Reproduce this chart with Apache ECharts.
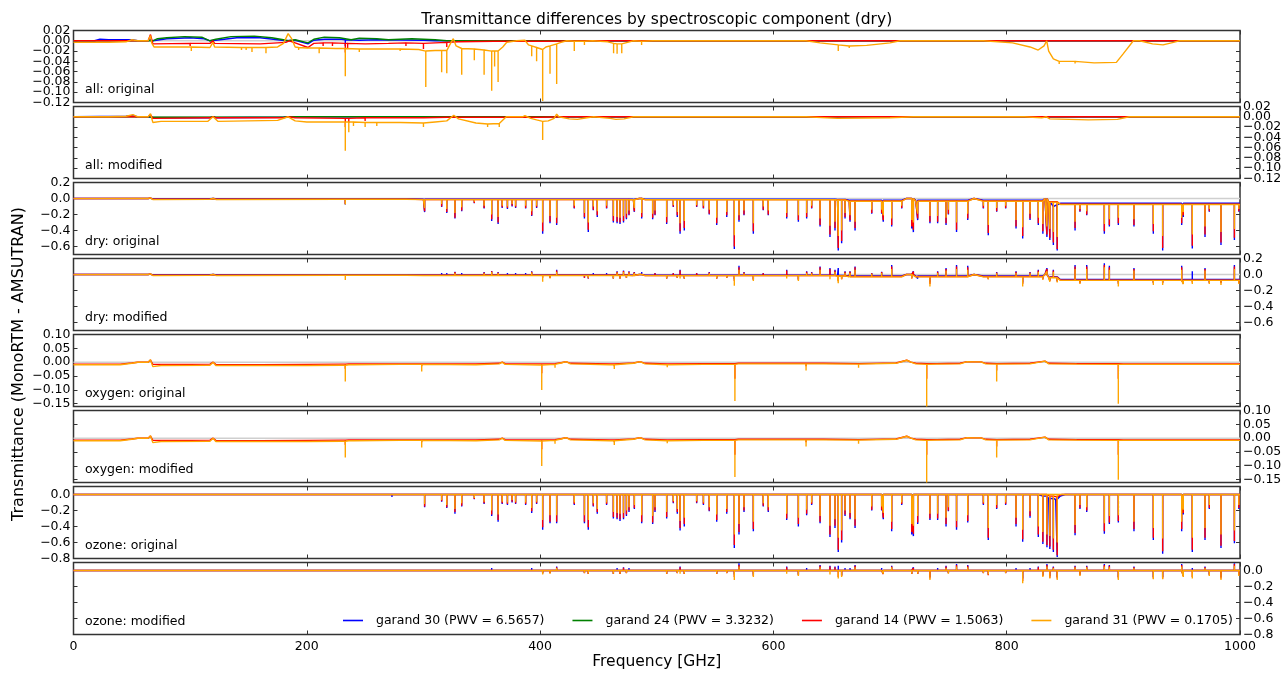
<!DOCTYPE html>
<html>
<head>
<meta charset="utf-8">
<script src="https://cdn.jsdelivr.net/npm/echarts@6/dist/echarts.min.js"></script>
<style>
  html, body { margin: 0; padding: 0; background: #ffffff; }
  #chart { width: 1285px; height: 673px; }
</style>
</head>
<body>
<div id="chart"></div>
<script>
// ---------------------------------------------------------------------------
// Transmittance differences (MonoRTM - AMSUTRAN) per spectroscopic component
// ---------------------------------------------------------------------------

const seriesNames = [
  'garand 30 (PWV = 6.5657)',
  'garand 24 (PWV = 3.3232)',
  'garand 14 (PWV = 1.5063)',
  'garand 31 (PWV = 0.1705)'
];
const seriesColors = ['#0000ff', '#008000', '#ff0000', '#ffa500'];

const panelLabels = [
  'all: original', 'all: modified',
  'dry: original', 'dry: modified',
  'oxygen: original', 'oxygen: modified',
  'ozone: original', 'ozone: modified'
];

const freqTicks = [0, 200, 400, 600, 800, 1000];
const allYTicks = [-0.12, -0.10, -0.08, -0.06, -0.04, -0.02, 0.00, 0.02];
const dryYTicks = [-0.6, -0.4, -0.2, 0.0, 0.2];
const oxygenYTicks = [-0.15, -0.10, -0.05, 0.00, 0.05, 0.10];
const ozoneYTicks = [-0.8, -0.6, -0.4, -0.2, 0.0];

// Trace entries: [GHz, value] is a continuum point,
// [GHz, continuum, peak] is a narrow line drawn from the continuum to its peak.

// ---- all: original ----
const allOrigBlue = [[0,0],[18,0],[22.7,0.003],[30,0.002],[50,0.002],[55,0],[64,0],[66,0.003],[68,0],[80,0.004],[100,0.006],[112,0.004],[117,0],[122,0.001],[140,0.006],[160,0.006],[175,0.002],[182,0],[190,0.001],[201,-0.006],[206,0.001],[215,0.003],[230,0.003],[233,0.002,-0.01],[245,0.001],[260,0.002],[300,0.001],[310,0],[1000,0]];
const allOrigGreen = [[0,0],[64,0],[68,0],[72,0.004],[80,0.006],[95,0.008],[110,0.007],[117,0],[122,0.003],[135,0.008],[155,0.009],[170,0.006],[180,0.002],[184,0],[190,0.002],[201,-0.004],[206,0.003],[215,0.007],[228,0.006],[233,0.004],[238,0.002],[245,0.005],[260,0.004],[270,0.002],[290,0.004],[310,0.002],[320,0],[1000,0]];
const allOrigRed = [[0,0],[64,0],[66,0.012],[68,-0.006],[100,-0.005,-0.01],[117,-0.005],[119.5,0],[121,-0.005],[160,-0.006],[182,-0.003],[185,0],[190,-0.004],[201,-0.013],[206,-0.005],[214,-0.004,-0.01],[222,-0.004,-0.01],[233,-0.005,-0.023],[235,-0.005,-0.015],[250,-0.006],[270,-0.005],[285,-0.004,-0.01],[300,-0.005,-0.016],[310,-0.004],[320,-0.003,-0.012],[330,-0.002],[360,-0.001],[400,-0.001],[450,0],[1000,0]];
const allOrigOrange = [[0,-0.003],[30,-0.003],[45,-0.002],[50,0.002],[55,0],[64,0],[66,0.01],[67,-0.004],[69,-0.012],[90,-0.012],[101,-0.012,-0.02],[117,-0.013],[119.5,-0.003],[121,-0.012],[144,-0.013,-0.018],[148,-0.013,-0.018],[153,-0.013,-0.022],[165,-0.013,-0.024],[175,-0.012],[180,-0.005],[184,0.014],[187,0.004],[190,-0.012],[193,-0.013,-0.018],[200,-0.014],[210.6,-0.014,-0.024],[225,-0.015],[233,-0.015,-0.069],[245,-0.016,-0.022],[260,-0.016],[280,-0.016,-0.02],[296,-0.017],[302,-0.02,-0.09],[310,-0.019],[315.6,-0.019,-0.061],[320,-0.019,-0.063],[323,-0.006],[325.6,0.004],[328,-0.01],[332.8,-0.015,-0.066],[343.6,-0.016,-0.038],[352,-0.018,-0.066],[358.5,-0.02,-0.097],[361,-0.02,-0.05],[364,-0.02,-0.08],[368,-0.012],[371.4,-0.003],[380,0],[387,0.001],[390,-0.008],[392.8,-0.01,-0.03],[397,-0.013,-0.04],[402.2,-0.017,-0.117],[405,-0.012],[408.5,-0.01,-0.064],[414.2,-0.006,-0.084],[418,-0.003],[422.8,0],[429.3,-0.001,-0.02],[438,-0.001,-0.008],[445,0],[458,-0.002],[463,-0.005,-0.024],[466,-0.006,-0.025],[470,-0.006,-0.024],[475,-0.003],[480,0],[487,-0.001,-0.008],[497,0],[628,0],[640,-0.004],[655.6,-0.008,-0.02],[665,-0.01,-0.014],[680,-0.009],[700,-0.004],[708.5,0],[780,0],[805,-0.004],[820,-0.012],[827,-0.018],[832,-0.01],[834.3,0],[836,-0.02],[840,-0.035],[845,-0.04,-0.045],[858.6,-0.04,-0.044],[875,-0.043],[894,-0.042,-0.045],[900,-0.025],[908.6,0],[914,0],[925,-0.006],[934,-0.008],[943,-0.003],[948,0],[1000,0]];

// ---- all: modified ----
const allModBlue = [[0,0],[45,0.001],[50,0.002],[55,0],[64,0],[68,-0.002],[117,-0.002],[120,0],[122,-0.002],[180,-0.001],[184,0],[260,0],[1000,0]];
const allModGreen = [[0,0],[64,0],[68,-0.001],[117,-0.001],[120,0],[122,-0.001],[180,-0.001],[184,0],[1000,0]];
const allModRed = [[0,0],[64,0],[66,0.004],[68,-0.003],[117,-0.002],[120,0],[122,-0.002],[180,-0.002],[184,0],[190,-0.002],[233,-0.003,-0.02],[236,-0.003,-0.012],[250,-0.002,-0.008],[300,-0.002],[320,-0.001],[400,-0.001],[420,0],[1000,0]];
const allModOrange = [[0,0],[30,0],[45,0.001],[51,0.004],[55,0],[64,0],[66,0.006],[68,-0.011],[75,-0.009],[115,-0.009],[119.6,0],[124,-0.009],[175,-0.007],[184,0],[190,-0.008],[200,-0.01],[233,-0.01,-0.066],[236,-0.01,-0.03],[240,-0.01,-0.018],[250,-0.011,-0.02],[260,-0.011,-0.018],[280,-0.011],[300,-0.012,-0.02],[310,-0.01],[320,-0.008],[326,0.003],[330,-0.004],[345,-0.012],[355,-0.014,-0.02],[365,-0.013,-0.02],[371,0],[385,0],[387,0.002],[392,-0.003],[397,-0.006],[402.2,-0.009,-0.045],[407,-0.008],[412,-0.003],[414.2,0.005],[416,0],[425,-0.004],[432,-0.005],[440,-0.002],[446,0],[460,-0.003],[465,-0.005],[472,-0.004],[480,0],[628,0],[655,-0.003],[700,-0.002],[720,0],[815,0],[830,-0.002],[834,0],[837,-0.004],[870,-0.006],[895,-0.005],[905,0],[1000,0]];

// ---- oxygen (original and modified line shapes give the same curves) ----
const oxygenRed = [[0,-0.007],[40,-0.007],[50,-0.003],[55,0],[64,0],[66,0.008],[68,-0.008],[100,-0.008],[117,-0.007],[119.7,0],[122,-0.008],[160,-0.009],[200,-0.008],[230,-0.007],[233,-0.007,-0.024],[236,-0.006],[240,-0.006,-0.01],[280,-0.006],[298.5,-0.006,-0.015],[345,-0.006,-0.01],[365,-0.004],[367.6,0],[370,-0.005],[401.4,-0.006,-0.04],[412.8,-0.005,-0.012],[418,-0.002],[422.2,0.002],[426,-0.004],[460,-0.006],[463.6,-0.006,-0.015],[480,-0.003],[485.7,0.002],[490,-0.004],[509,-0.006,-0.012],[540,-0.005],[567,-0.005,-0.06],[570,-0.004],[582.8,-0.004,-0.01],[600,-0.004],[628,-0.004,-0.015],[642.8,-0.004,-0.006],[673,-0.005,-0.012],[705,-0.003],[714.3,0.007],[718,0],[722,-0.004],[731.4,-0.005,-0.06],[740,-0.005],[760,-0.004],[766,0.002],[772,0.001],[778,0.001],[782,-0.004],[791.4,-0.005,-0.03],[820,-0.004],[832.8,0.004],[836,-0.004],[860,-0.005],[895.7,-0.005,-0.06],[900,-0.006],[1000,-0.006]];
const oxygenOrange = [[0,-0.009],[40,-0.009],[50,-0.004],[55,0],[64,0],[66,0.009],[68,-0.016],[75,-0.012],[117,-0.011],[119.7,0],[122,-0.012],[200,-0.012],[230,-0.011],[233,-0.011,-0.07],[236,-0.009],[240,-0.009,-0.012],[280,-0.008],[298.5,-0.008,-0.034],[345,-0.009,-0.015],[365,-0.006],[367.6,0],[370,-0.008],[401.4,-0.01,-0.1],[412.8,-0.008,-0.02],[418,-0.003],[422.2,0.002],[426,-0.006],[460,-0.009],[463.6,-0.009,-0.025],[480,-0.004],[485.7,0.002],[490,-0.006],[509,-0.009,-0.018],[540,-0.008],[567,-0.008,-0.14],[570,-0.006],[582.8,-0.006,-0.012],[600,-0.006],[628,-0.006,-0.03],[642.8,-0.006,-0.008],[673,-0.007,-0.02],[705,-0.004],[714.3,0.007],[718,0],[722,-0.006],[731.4,-0.008,-0.16],[740,-0.007],[760,-0.006],[766,0.002],[772,0.001],[778,0.001],[782,-0.006],[791.4,-0.007,-0.07],[820,-0.006],[832.8,0.004],[836,-0.006],[860,-0.007],[895.7,-0.008,-0.15],[900,-0.008],[1000,-0.008]];

// ---- dry / ozone line catalogue (GHz) ----
const lineGHz = [
  233.0, 240.6, 250.0, 273.0, 285.6, 301.0, 315.6, 320.0, 327.0, 332.8,
  343.6, 352.0, 358.5, 364.0, 367.5, 372.0, 376.0, 379.0, 387.6, 392.8,
  397.0, 402.2, 408.5, 414.2, 429.3, 438.0, 441.3, 445.6, 449.0, 457.0,
  462.8, 466.0, 468.5, 471.5, 474.0, 476.2, 480.8, 487.1, 496.5, 498.5,
  508.5, 514.2, 517.6, 520.0, 523.6, 534.2, 540.0, 545.0, 551.4, 560.0,
  566.5, 570.5, 574.8, 582.8, 591.3, 595.6, 611.4, 621.4, 628.5, 632.8,
  640.0, 648.5, 652.8, 655.6, 658.5, 661.4, 665.7, 670.0, 684.3, 692.8,
  694.2, 701.4, 710.0, 718.6, 720.0, 723.7, 734.2, 740.8, 748.0, 750.0,
  757.0, 766.6, 780.0, 784.2, 791.4, 799.1, 808.0, 813.7, 820.0, 827.1,
  831.0, 834.5, 837.0, 840.0, 843.3, 858.6, 862.8, 868.6, 883.7, 888.0,
  895.7, 909.1, 925.7, 933.7, 950.0, 951.4, 959.1, 970.0, 973.7, 983.7,
  995.2, 999.0
];

// dry continuum, original line shapes
const dryContBlue = [[0,0],[64,0],[66,0.005],[68,-0.004],[117,-0.004],[119.7,0],[122,-0.004],[230,-0.004],[300,-0.008],[480,-0.01],[485,0],[490,-0.01],[655,-0.012],[665,-0.02],[705,-0.02],[714,0],[722,-0.02],[764,-0.02],[772,0],[780,-0.02],[828,-0.02],[832.8,0],[836,-0.04],[840,-0.1],[843,-0.08],[846,-0.06],[1000,-0.062]];
const dryContRed = [[0,0],[64,0],[66,0.006],[68,-0.008],[117,-0.008],[119.7,0],[122,-0.008],[230,-0.008],[300,-0.012],[480,-0.014],[485,0],[490,-0.014],[655,-0.016],[665,-0.03],[705,-0.03],[714,0],[722,-0.03],[764,-0.03],[772,0],[780,-0.03],[828,-0.03],[832.8,0],[836,-0.04],[846,-0.072],[1000,-0.075]];
const dryContOrange = [[0,-0.002],[55,0],[64,0],[66,0.008],[68,-0.012],[117,-0.01],[119.7,0],[122,-0.012],[230,-0.01],[300,-0.014],[480,-0.015],[485,0],[490,-0.015],[655,-0.018],[665,-0.035],[705,-0.035],[714,0],[722,-0.035],[764,-0.035],[772,0],[780,-0.035],[828,-0.035],[832.8,0],[836,-0.045],[846,-0.075],[1000,-0.078]];
// dry continuum, modified line shapes
const dryModContBlue = [[0,0],[64,0],[66,0.005],[68,-0.004],[117,-0.004],[119.7,0],[122,-0.004],[230,-0.004],[300,-0.006],[480,-0.008],[485,0],[490,-0.008],[655,-0.012],[665,-0.018],[705,-0.018],[714,0],[722,-0.018],[764,-0.018],[772,0],[780,-0.018],[828,-0.018],[832.8,0],[836,-0.03],[846,-0.062],[1000,-0.064]];
const dryModContRed = [[0,0],[64,0],[66,0.006],[68,-0.008],[117,-0.008],[119.7,0],[122,-0.008],[230,-0.008],[300,-0.01],[480,-0.012],[485,0],[490,-0.012],[655,-0.016],[665,-0.025],[705,-0.025],[714,0],[722,-0.025],[764,-0.025],[772,0],[780,-0.025],[828,-0.025],[832.8,0],[836,-0.035],[846,-0.07],[1000,-0.072]];
const dryModContOrange = [[0,-0.002],[55,0],[64,0],[66,0.008],[68,-0.012],[117,-0.01],[119.7,0],[122,-0.012],[230,-0.01],[300,-0.012],[480,-0.014],[485,0],[490,-0.014],[655,-0.018],[665,-0.03],[705,-0.03],[714,0],[722,-0.03],[764,-0.03],[772,0],[780,-0.03],[828,-0.03],[832.8,0],[836,-0.04],[846,-0.074],[1000,-0.076]];

const dryOrigBluePeak = [
  -0.075,-0.02,-0.02,-0.025,-0.02,-0.17,-0.105,-0.18,-0.25,-0.16,
  -0.06,-0.125,-0.28,-0.32,-0.12,-0.13,-0.1,-0.12,-0.125,-0.22,
  -0.12,-0.44,-0.31,-0.33,-0.125,-0.25,-0.42,-0.146,-0.23,-0.125,
  -0.3,-0.31,-0.32,-0.3,-0.26,-0.21,-0.167,-0.25,-0.26,-0.21,
  -0.32,-0.105,-0.23,-0.44,-0.4,-0.105,-0.125,-0.2,-0.33,-0.23,
  -0.63,-0.29,-0.21,-0.44,-0.146,-0.21,-0.25,-0.29,-0.25,-0.125,
  -0.35,-0.48,-0.4,-0.65,-0.56,-0.25,-0.29,-0.4,-0.19,-0.19,
  -0.29,-0.35,-0.125,-0.375,-0.42,-0.27,-0.31,-0.31,-0.33,-0.2,
  -0.42,-0.27,-0.125,-0.46,-0.167,-0.125,-0.375,-0.5,-0.27,-0.33,
  -0.44,-0.48,-0.52,-0.58,-0.65,-0.4,-0.167,-0.21,-0.44,-0.35,
  -0.33,-0.35,-0.44,-0.65,-0.33,-0.23,-0.625,-0.48,-0.167,-0.58,
  -0.52,-0.167
];
const dryOrigRedPeak = [
  -0.07,-0.015,-0.015,-0.02,-0.015,-0.16,-0.1,-0.17,-0.24,-0.15,
  -0.055,-0.12,-0.26,-0.3,-0.11,-0.12,-0.09,-0.11,-0.12,-0.21,
  -0.11,-0.41,-0.29,-0.31,-0.12,-0.23,-0.39,-0.14,-0.21,-0.12,
  -0.28,-0.29,-0.3,-0.28,-0.24,-0.2,-0.16,-0.23,-0.24,-0.2,
  -0.3,-0.1,-0.21,-0.41,-0.37,-0.1,-0.12,-0.19,-0.31,-0.21,
  -0.6,-0.27,-0.2,-0.41,-0.14,-0.2,-0.23,-0.27,-0.23,-0.12,
  -0.33,-0.45,-0.37,-0.62,-0.53,-0.23,-0.27,-0.37,-0.18,-0.18,
  -0.27,-0.33,-0.12,-0.35,-0.39,-0.25,-0.29,-0.29,-0.31,-0.19,
  -0.39,-0.25,-0.12,-0.43,-0.16,-0.12,-0.35,-0.47,-0.25,-0.31,
  -0.41,-0.45,-0.49,-0.55,-0.63,-0.37,-0.16,-0.2,-0.41,-0.33,
  -0.31,-0.33,-0.41,-0.62,-0.31,-0.21,-0.59,-0.45,-0.16,-0.55,
  -0.49,-0.16
];
const dryOrigOrangePeak = [
  -0.075,-0.01,-0.01,-0.015,-0.01,-0.12,-0.07,-0.13,-0.18,-0.11,
  -0.04,-0.09,-0.2,-0.23,-0.09,-0.1,-0.07,-0.09,-0.09,-0.16,
  -0.09,-0.3,-0.22,-0.24,-0.09,-0.18,-0.3,-0.1,-0.16,-0.09,
  -0.22,-0.23,-0.24,-0.22,-0.19,-0.15,-0.12,-0.18,-0.19,-0.15,
  -0.23,-0.08,-0.17,-0.31,-0.28,-0.08,-0.09,-0.14,-0.24,-0.17,
  -0.46,-0.21,-0.15,-0.31,-0.1,-0.15,-0.18,-0.21,-0.18,-0.09,
  -0.25,-0.34,-0.29,-0.47,-0.4,-0.18,-0.21,-0.29,-0.14,-0.14,
  -0.21,-0.25,-0.09,-0.27,-0.3,-0.19,-0.22,-0.22,-0.24,-0.14,
  -0.3,-0.19,-0.09,-0.33,-0.12,-0.09,-0.27,-0.36,-0.19,-0.24,
  -0.32,-0.35,-0.38,-0.42,-0.48,-0.29,-0.13,-0.16,-0.32,-0.26,
  -0.24,-0.26,-0.32,-0.47,-0.24,-0.17,-0.45,-0.35,-0.13,-0.42,
  -0.38,-0.13
];

const dryModBluePeak = [
  -0.02,0.02,0.02,0.02,0.02,-0.03,0.02,0.02,0.035,0.02,
  0.01,0.03,0.045,0.03,-0.02,0.02,-0.02,0.02,0.02,0.04,
  -0.02,-0.03,-0.04,0.06,-0.03,-0.04,-0.05,0.02,-0.03,0.02,
  -0.05,0.04,-0.05,0.05,-0.04,0.04,0.03,0.03,-0.02,0.02,
  -0.05,0.02,-0.04,0.06,-0.05,0.02,-0.03,0.03,-0.05,-0.04,
  -0.06,0.11,0.03,-0.06,0.02,-0.03,0.06,-0.06,0.04,0.03,
  0.1,0.08,0.06,0.08,-0.05,0.04,0.04,0.1,0.02,0.035,
  -0.04,0.12,-0.03,-0.04,0.04,-0.05,-0.1,0.04,0.08,-0.03,
  0.12,0.11,-0.03,-0.05,0.03,-0.03,0.04,-0.1,0.03,0.06,
  -0.05,0.08,-0.07,0.06,-0.08,0.12,-0.1,0.12,0.14,0.11,
  -0.1,0.08,-0.1,-0.1,0.11,-0.11,0.04,0.08,-0.1,-0.1,
  0.12,-0.1
];
const dryModRedPeak = [
  -0.03,0.015,0.015,0.015,0.015,-0.03,0.015,0.015,0.03,0.015,
  0.01,0.025,0.04,0.025,-0.02,0.015,-0.02,0.015,0.015,0.035,
  -0.02,-0.04,-0.04,0.05,-0.03,-0.04,-0.05,0.015,-0.03,0.015,
  -0.05,0.035,-0.05,0.045,-0.04,0.035,0.025,0.025,-0.02,0.015,
  -0.05,0.015,-0.04,0.05,-0.05,0.015,-0.03,0.025,-0.05,-0.04,
  -0.08,0.09,0.025,-0.07,0.015,-0.03,0.05,-0.07,0.035,0.025,
  0.09,0.07,0.05,-0.08,-0.06,0.035,0.035,0.09,0.015,0.03,
  -0.04,0.1,-0.03,-0.05,0.035,-0.05,-0.12,0.035,0.07,-0.04,
  0.1,0.09,-0.04,-0.06,0.025,-0.04,0.035,-0.12,0.025,0.05,
  -0.06,0.07,-0.08,0.05,-0.09,0.1,-0.11,0.1,0.12,0.09,
  -0.12,0.07,-0.11,-0.11,0.09,-0.11,-0.1,0.07,-0.11,-0.11,
  0.1,-0.11
];
const dryModOrangePeak = [
  -0.07,0.01,0.01,0.01,0.01,-0.02,0.01,0.01,0.02,0.01,
  0.005,0.015,0.03,0.02,-0.015,0.01,-0.015,0.01,0.01,0.025,
  -0.02,-0.09,-0.05,0.03,-0.025,-0.03,-0.04,0.01,-0.03,0.01,
  -0.05,0.025,-0.05,0.03,-0.04,0.025,0.015,0.015,-0.02,0.01,
  -0.05,0.01,-0.04,-0.05,-0.05,0.01,-0.03,0.015,-0.05,-0.04,
  -0.14,0.06,0.015,-0.08,0.01,-0.03,-0.05,-0.08,0.02,0.015,
  0.06,-0.06,0.03,-0.11,-0.06,0.02,0.02,0.06,0.01,0.02,
  -0.04,0.07,-0.03,-0.05,0.02,-0.05,-0.15,0.02,0.05,-0.05,
  0.07,0.06,-0.04,-0.06,0.015,-0.04,0.02,-0.15,0.015,0.03,
  -0.07,0.04,-0.09,0.03,-0.1,0.07,-0.12,0.07,0.09,0.06,
  -0.15,0.05,-0.13,-0.13,0.06,-0.12,-0.12,0.05,-0.12,-0.13,
  0.07,-0.12
];

// ozone continuum
const ozoneContBlue = [[0,0],[820,0],[828,-0.02],[836,-0.05],[842,-0.06],[846,-0.02],[850,0],[1000,0]];
const ozoneContRed = [[0,0],[825,0],[836,-0.02],[843,-0.03],[847,0],[1000,0]];
const ozoneContOrange = [[0,0],[1000,0]];

const ozoneOrigBluePeak = [
  -0.01,-0.02,-0.02,-0.03,-0.02,-0.16,-0.09,-0.17,-0.24,-0.15,
  -0.06,-0.12,-0.27,-0.34,-0.12,-0.13,-0.1,-0.12,-0.13,-0.23,
  -0.12,-0.44,-0.36,-0.36,-0.13,-0.36,-0.44,-0.15,-0.24,-0.13,
  -0.3,-0.31,-0.33,-0.31,-0.27,-0.22,-0.18,-0.36,-0.37,-0.22,
  -0.3,-0.11,-0.24,-0.45,-0.4,-0.11,-0.13,-0.21,-0.34,-0.24,
  -0.67,-0.5,-0.22,-0.46,-0.15,-0.22,-0.32,-0.4,-0.26,-0.13,
  -0.36,-0.53,-0.42,-0.72,-0.6,-0.27,-0.31,-0.42,-0.2,-0.2,
  -0.31,-0.46,-0.13,-0.5,-0.52,-0.37,-0.32,-0.32,-0.4,-0.21,
  -0.44,-0.35,-0.13,-0.57,-0.18,-0.13,-0.4,-0.59,-0.29,-0.53,
  -0.62,-0.66,-0.68,-0.72,-0.78,-0.51,-0.18,-0.22,-0.49,-0.37,
  -0.35,-0.46,-0.57,-0.74,-0.46,-0.25,-0.72,-0.57,-0.18,-0.67,
  -0.61,-0.18
];
const ozoneOrigRedPeak = [
  -0.01,-0.015,-0.015,-0.025,-0.015,-0.15,-0.085,-0.16,-0.22,-0.14,
  -0.055,-0.11,-0.25,-0.32,-0.11,-0.12,-0.09,-0.11,-0.12,-0.21,
  -0.11,-0.41,-0.34,-0.34,-0.12,-0.34,-0.41,-0.14,-0.22,-0.12,
  -0.28,-0.29,-0.31,-0.29,-0.25,-0.2,-0.17,-0.34,-0.35,-0.2,
  -0.28,-0.1,-0.22,-0.42,-0.37,-0.1,-0.12,-0.2,-0.32,-0.22,
  -0.63,-0.47,-0.2,-0.43,-0.14,-0.2,-0.3,-0.37,-0.24,-0.12,
  -0.34,-0.5,-0.39,-0.69,-0.57,-0.25,-0.29,-0.39,-0.19,-0.19,
  -0.29,-0.43,-0.12,-0.47,-0.49,-0.35,-0.3,-0.3,-0.37,-0.2,
  -0.41,-0.33,-0.12,-0.54,-0.17,-0.12,-0.37,-0.56,-0.27,-0.5,
  -0.59,-0.63,-0.65,-0.69,-0.76,-0.48,-0.17,-0.2,-0.46,-0.35,
  -0.33,-0.43,-0.54,-0.71,-0.43,-0.23,-0.69,-0.54,-0.17,-0.64,
  -0.58,-0.17
];
const ozoneOrigOrangePeak = [
  -0.008,-0.012,-0.012,-0.02,-0.012,-0.12,-0.07,-0.13,-0.18,-0.11,
  -0.045,-0.09,-0.2,-0.25,-0.09,-0.1,-0.07,-0.09,-0.1,-0.17,
  -0.09,-0.32,-0.26,-0.26,-0.1,-0.26,-0.32,-0.11,-0.18,-0.1,
  -0.22,-0.23,-0.24,-0.23,-0.2,-0.16,-0.13,-0.26,-0.27,-0.16,
  -0.22,-0.08,-0.18,-0.33,-0.29,-0.08,-0.1,-0.16,-0.25,-0.18,
  -0.5,-0.37,-0.16,-0.34,-0.11,-0.16,-0.24,-0.29,-0.19,-0.1,
  -0.27,-0.39,-0.31,-0.54,-0.45,-0.2,-0.23,-0.31,-0.15,-0.15,
  -0.23,-0.34,-0.1,-0.37,-0.39,-0.27,-0.24,-0.24,-0.29,-0.16,
  -0.33,-0.26,-0.1,-0.42,-0.13,-0.1,-0.29,-0.44,-0.21,-0.4,
  -0.47,-0.5,-0.52,-0.55,-0.6,-0.38,-0.13,-0.16,-0.36,-0.27,
  -0.26,-0.34,-0.42,-0.55,-0.34,-0.19,-0.54,-0.42,-0.13,-0.5,
  -0.45,-0.13
];

const ozoneModCont = [[0,0],[1000,0]];
const ozoneModBluePeak = [
  0,0.01,0.015,0.01,0.015,-0.02,0.01,0.01,0.02,0.01,
  0.005,0.02,0.03,0.02,-0.015,0.015,-0.015,0.015,0.015,0.03,
  -0.015,-0.03,-0.03,0.05,-0.025,-0.03,-0.04,0.015,-0.025,0.015,
  -0.04,0.03,-0.04,0.04,-0.03,0.03,0.02,0.02,-0.02,0.015,
  -0.04,0.015,-0.03,0.05,-0.04,0.015,-0.025,0.02,-0.04,-0.03,
  -0.05,0.09,0.02,-0.05,0.015,-0.025,0.05,-0.05,0.03,0.02,
  0.07,0.06,0.05,0.06,-0.06,0.03,0.03,0.07,0.015,0.03,
  -0.04,0.06,-0.025,-0.04,0.04,-0.04,-0.08,0.03,0.06,-0.03,
  0.08,0.07,-0.03,-0.05,0.02,-0.03,0.03,-0.1,0.03,0.05,
  -0.06,0.08,-0.07,0.05,-0.08,0.06,-0.05,0.06,0.08,0.07,
  -0.08,0.05,-0.08,-0.08,0.08,-0.06,0.03,0.05,-0.05,-0.08,
  0.09,-0.05
];
const ozoneModRedPeak = [
  0,0.008,0.012,0.008,0.012,-0.02,0.008,0.008,0.015,0.008,
  0.004,0.015,0.025,0.015,-0.015,0.012,-0.015,0.012,0.012,0.025,
  -0.015,-0.04,-0.035,0.04,-0.025,-0.035,-0.045,0.012,-0.025,0.012,
  -0.045,0.025,-0.045,0.035,-0.035,0.025,0.015,0.015,-0.02,0.012,
  -0.045,0.012,-0.035,0.04,-0.045,0.012,-0.025,0.015,-0.045,-0.035,
  -0.08,0.07,0.015,-0.07,0.012,-0.025,0.04,-0.06,0.025,0.015,
  0.06,0.05,0.04,-0.08,-0.07,0.025,0.025,0.06,0.012,0.025,
  -0.045,0.05,-0.025,-0.045,0.03,-0.045,-0.1,0.025,0.05,-0.035,
  0.07,0.06,-0.035,-0.06,0.015,-0.035,0.025,-0.13,0.025,0.04,
  -0.07,0.07,-0.09,0.04,-0.1,0.05,-0.06,0.05,0.07,0.06,
  -0.1,0.04,-0.1,-0.1,0.07,-0.07,-0.08,0.04,-0.06,-0.1,
  0.08,-0.06
];
const ozoneModOrangePeak = [
  -0.005,0.005,0.008,0.005,0.008,-0.015,0.005,0.005,0.01,0.005,
  0.003,0.01,0.015,0.01,-0.01,0.008,-0.01,0.008,0.008,0.015,
  -0.01,-0.05,-0.04,0.03,-0.02,-0.03,-0.04,0.008,-0.02,0.008,
  -0.04,0.015,-0.04,0.02,-0.03,0.015,0.01,0.01,-0.015,0.008,
  -0.04,0.008,-0.03,-0.04,-0.04,0.008,-0.02,0.01,-0.04,-0.03,
  -0.12,0.05,0.01,-0.08,0.008,-0.02,-0.04,-0.07,0.015,0.01,
  0.04,-0.05,0.025,-0.1,-0.08,0.015,0.015,0.04,0.008,0.015,
  -0.04,0.04,-0.02,-0.04,0.02,-0.04,-0.12,0.015,0.03,-0.04,
  0.05,0.04,-0.03,-0.05,0.01,-0.03,0.015,-0.16,0.015,0.025,
  -0.08,0.05,-0.1,0.03,-0.12,0.04,-0.07,0.04,0.05,0.04,
  -0.12,0.03,-0.11,-0.11,0.05,-0.08,-0.1,0.03,-0.07,-0.12,
  0.06,-0.07
];

// ---------------------------------------------------------------------------
// Helpers that turn the tables into polylines
// ---------------------------------------------------------------------------

// expand [f, v] and [f, base, peak] entries into plot points
function fromEntries(entries) {
  const pts = [];
  entries.forEach(e => {
    if (e.length === 3) pts.push([e[0], e[1]], [e[0], e[2]], [e[0], e[1]]);
    else pts.push([e[0], e[1]]);
  });
  return pts;
}

// continuum level held from the last knot at or below f
function heldLevel(cont, f) {
  let v = cont[0][1];
  for (const k of cont) { if (k[0] <= f) v = k[1]; else break; }
  return v;
}

// continuum knots plus the catalogue lines, each line a vertical stroke
function withLines(cont, freqs, peaks) {
  const pts = cont.map(k => [k[0], k[1]]);
  freqs.forEach((f, i) => {
    const lv = heldLevel(cont, f);
    pts.push([f, lv], [f, peaks[i]], [f, lv]);
  });
  return pts.sort((a, b) => a[0] - b[0]);   // stable sort keeps each stroke intact
}

// ---------------------------------------------------------------------------
// Panels (top to bottom)
// ---------------------------------------------------------------------------
const panels = [
  { min: -0.12, max: 0.02, ticks: allYTicks, digits: 2, side: 'left',
    traces: [fromEntries(allOrigBlue), fromEntries(allOrigGreen), fromEntries(allOrigRed), fromEntries(allOrigOrange)] },
  { min: -0.12, max: 0.02, ticks: allYTicks, digits: 2, side: 'right',
    traces: [fromEntries(allModBlue), fromEntries(allModGreen), fromEntries(allModRed), fromEntries(allModOrange)] },
  { min: -0.7, max: 0.2, ticks: dryYTicks, digits: 1, side: 'left',
    traces: [withLines(dryContBlue, lineGHz, dryOrigBluePeak), null,
             withLines(dryContRed, lineGHz, dryOrigRedPeak), withLines(dryContOrange, lineGHz, dryOrigOrangePeak)] },
  { min: -0.7, max: 0.2, ticks: dryYTicks, digits: 1, side: 'right',
    traces: [withLines(dryModContBlue, lineGHz, dryModBluePeak), null,
             withLines(dryModContRed, lineGHz, dryModRedPeak), withLines(dryModContOrange, lineGHz, dryModOrangePeak)] },
  { min: -0.16, max: 0.10, ticks: oxygenYTicks, digits: 2, side: 'left',
    traces: [null, null, fromEntries(oxygenRed), fromEntries(oxygenOrange)] },
  { min: -0.16, max: 0.10, ticks: oxygenYTicks, digits: 2, side: 'right',
    traces: [null, null, fromEntries(oxygenRed), fromEntries(oxygenOrange)] },
  { min: -0.8, max: 0.1, ticks: ozoneYTicks, digits: 1, side: 'left',
    traces: [withLines(ozoneContBlue, lineGHz, ozoneOrigBluePeak), null,
             withLines(ozoneContRed, lineGHz, ozoneOrigRedPeak), withLines(ozoneContOrange, lineGHz, ozoneOrigOrangePeak)] },
  { min: -0.8, max: 0.1, ticks: ozoneYTicks, digits: 1, side: 'right',
    traces: [withLines(ozoneModCont, lineGHz, ozoneModBluePeak), null,
             withLines(ozoneModCont, lineGHz, ozoneModRedPeak), withLines(ozoneModCont, lineGHz, ozoneModOrangePeak)] }
];

// ---------------------------------------------------------------------------
// Layout and styling
// ---------------------------------------------------------------------------
const FONT = "'DejaVu Sans', 'Liberation Sans', sans-serif";
const INK = '#000000';
const FRAME = '#333333';
const PLOT_LEFT = 73.5, PLOT_WIDTH = 1166.5;
const PANEL_TOP = 30.5, PANEL_STEP = 76, PANEL_H = 72;
const Y_AXES_PER_PANEL = 4;   // left ticks, right ticks, two interleaved label rows

function tickText(v, digits) {
  const s = Math.abs(v).toFixed(digits);
  return (v < -1e-9 ? '\u2212' : '') + s;
}

const grids = [], xAxes = [], yAxes = [], series = [], graphics = [];

panels.forEach((p, i) => {
  const top = PANEL_TOP + i * PANEL_STEP;
  const isLast = i === panels.length - 1;
  grids.push({
    left: PLOT_LEFT, width: PLOT_WIDTH, top: top, height: PANEL_H,
    show: true, borderColor: FRAME, borderWidth: 1.5, backgroundColor: 'transparent'
  });

  const tickStyle = { show: true, inside: true, length: 4, lineStyle: { color: FRAME, width: 1 } };
  ['bottom', 'top'].forEach(pos => {
    xAxes.push({
      gridIndex: i, type: 'value', position: pos, min: 0, max: 1000,
      axisLine: { show: false, onZero: false }, splitLine: { show: false },
      axisTick: Object.assign({ customValues: freqTicks }, tickStyle),
      axisLabel: {
        show: isLast && pos === 'bottom', customValues: freqTicks, margin: 6,
        showMinLabel: true, showMaxLabel: true,
        color: INK, fontFamily: FONT, fontSize: 12.5, formatter: v => String(v)
      }
    });
  });

  // tick marks on both sides, no labels
  ['left', 'right'].forEach(pos => {
    yAxes.push({
      gridIndex: i, type: 'value', position: pos, min: p.min, max: p.max,
      axisLine: { show: false, onZero: false }, splitLine: { show: false },
      axisTick: Object.assign({ customValues: p.ticks }, tickStyle),
      axisLabel: { show: false }
    });
  });
  // labels split into two interleaved rows so closely packed values all stay visible
  [0, 1].forEach(parity => {
    const vals = p.ticks.filter((v, k) => k % 2 === parity);
    yAxes.push({
      gridIndex: i, type: 'value', position: p.side, offset: 0, min: p.min, max: p.max,
      axisLine: { show: false, onZero: false }, splitLine: { show: false },
      axisTick: { show: false },
      axisLabel: {
        show: true, customValues: vals, margin: 3,
        showMinLabel: true, showMaxLabel: true,
        color: INK, fontFamily: FONT, fontSize: 12.5,
        formatter: v => tickText(v, p.digits)
      }
    });
  });

  const yIdx = Y_AXES_PER_PANEL * i;

  // light grey zero reference
  series.push({
    type: 'line', xAxisIndex: 2 * i, yAxisIndex: yIdx, data: [[0, 0], [1000, 0]],
    symbol: 'none', silent: true, z: 1,
    lineStyle: { color: '#cfcfcf', width: 1.5 }
  });

  p.traces.forEach((pts, c) => {
    if (!pts) return;
    series.push({
      name: seriesNames[c], type: 'line', xAxisIndex: 2 * i, yAxisIndex: yIdx,
      data: pts, symbol: 'none', showSymbol: false, silent: true, clip: true,
      z: 2 + c, lineStyle: { color: seriesColors[c], width: 1.4 },
      itemStyle: { color: seriesColors[c] }, emphasis: { disabled: true }
    });
  });

  graphics.push({
    type: 'text', left: 85, top: top + PANEL_H - 19,
    style: { text: panelLabels[i], font: '12.5px ' + FONT, fill: INK }
  });
});

graphics.push({
  type: 'text', x: PLOT_LEFT + PLOT_WIDTH / 2, y: 20,
  style: { text: 'Transmittance differences by spectroscopic component (dry)',
           font: '15.5px ' + FONT, fill: INK, align: 'center', verticalAlign: 'middle' }
});
graphics.push({
  type: 'text', x: PLOT_LEFT + PLOT_WIDTH / 2, y: 662,
  style: { text: 'Frequency [GHz]', font: '15.5px ' + FONT, fill: INK,
           align: 'center', verticalAlign: 'middle' }
});
graphics.push({
  type: 'text', x: 19, y: 364, rotation: Math.PI / 2,
  style: { text: 'Transmittance (MonoRTM - AMSUTRAN)', font: '16px ' + FONT, fill: INK,
           align: 'center', verticalAlign: 'middle' }
});

const chart = echarts.init(document.getElementById('chart'), null, { renderer: 'canvas' });
chart.setOption({
  animation: false,
  backgroundColor: '#ffffff',
  grid: grids,
  xAxis: xAxes,
  yAxis: yAxes,
  series: series,
  legend: {
    data: seriesNames, left: 338, top: 609, orient: 'horizontal',
    selectedMode: false, icon: 'rect', itemWidth: 20, itemHeight: 1.6, itemGap: 28,
    textStyle: { color: INK, fontFamily: FONT, fontSize: 12.5, padding: [0, 0, 0, 8] }
  },
  graphic: graphics
});
</script>
</body>
</html>
